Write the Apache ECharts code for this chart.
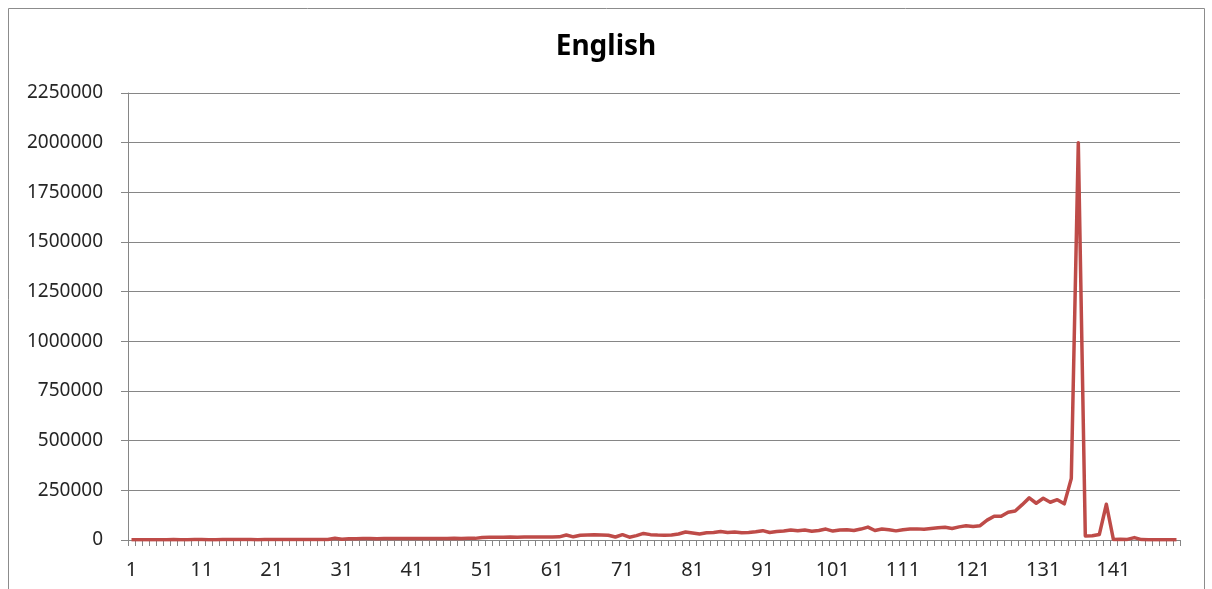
<!DOCTYPE html>
<html>
<head>
<meta charset="utf-8">
<style>
  html, body { margin: 0; padding: 0; background: #ffffff; }
  #chart { width: 1212px; height: 589px; }
</style>
<script src="https://cdn.jsdelivr.net/npm/echarts@6/dist/echarts.min.js"></script>
</head>
<body>
<div id="chart"></div>
<script>
// Category labels 1..150
const categories = Array.from({ length: 150 }, (_, i) => String(i + 1));

// Values per category, in blocks
const valuesLow = [ // 1-31
  1200, 1500, 1300, 1800, 1600, 1400, 2000, 1700, 1500, 1900,
  2100, 1800, 1600, 2200, 2000, 1900, 2300, 2100, 1800, 2400,
  2200, 2000, 2500, 2300, 2100, 2600, 2400, 2800, 3000, 9000,
  3500
];
const valuesEarly = [ // 32-62
  6000, 6500, 7000, 7200, 6800, 7400, 7100, 7600, 7300, 7800,
  7500, 7900, 7700, 8100, 7800, 8300, 8000, 8400, 8200,
  13000, 13500, 14000, 13800, 14500, 14200, 15000, 14600, 15200, 15500, 15000, 16000
];
const valuesMid = [ // 63-100
  25000, 16000, 24000, 25000, 26000, 25000, 24000, 15000, 27000, 14000,
  22000, 33000, 27000, 25000, 24000, 25000, 30000, 40000, 35000, 30000,
  36000, 38000, 43000, 38000, 40000, 36000, 38000, 42000, 47000, 38000,
  43000, 45000, 50000, 46000, 50000, 44000, 48000, 55000
];
const valuesLate = [ // 101-135
  45000, 50000, 52000, 48000, 55000, 65000, 48000, 55000, 52000, 46000,
  52000, 55000, 56000, 54000, 58000, 62000, 64000, 58000, 66000, 72000,
  68000, 72000, 100000, 120000, 120000, 140000, 146000, 178000, 212000, 185000,
  210000, 190000, 203000, 182000, 310000
];
const valuesTail = [ // 136-150
  2000000, 20000, 21000, 28000, 180000, 3000, 4000, 3000, 12000, 2000,
  1500, 1200, 1000, 1000, 800
];
const values = [].concat(valuesLow, valuesEarly, valuesMid, valuesLate, valuesTail);

const yTicks = { min: 0, max: 2250000, step: 250000 };

const chart = echarts.init(document.getElementById('chart'));
const axisGray = '#868686';
const textColor = '#262626';
const fontFamily = "'Noto Sans', 'Open Sans', sans-serif";

chart.setOption({
  backgroundColor: '#ffffff',
  animation: false,
  graphic: [{
    type: 'rect',
    shape: { x: 8.5, y: 8.5, width: 1196, height: 620 },
    style: { fill: 'none', stroke: '#8c8c8c', lineWidth: 1 },
    silent: true
  }],
  title: {
    text: 'English',
    left: 'center',
    top: 28,
    textStyle: { fontFamily, fontSize: 28, fontWeight: 'bold', color: '#000000' }
  },
  grid: { left: 128, right: 32, top: 93, bottom: 49, containLabel: false },
  xAxis: {
    type: 'category',
    data: categories,
    boundaryGap: true,
    axisLine: { lineStyle: { color: axisGray, width: 1 } },
    axisTick: { show: true, interval: 0, length: 6, inside: false, lineStyle: { color: axisGray } },
    axisLabel: { interval: 9, margin: 20, fontFamily, fontSize: 20, color: textColor },
    splitLine: { show: false }
  },
  yAxis: {
    type: 'value',
    min: yTicks.min,
    max: yTicks.max,
    interval: yTicks.step,
    axisLine: { show: true, lineStyle: { color: axisGray, width: 1 } },
    axisTick: { show: true, length: 7, lineStyle: { color: axisGray } },
    axisLabel: { margin: 25, fontFamily, fontSize: 19, color: textColor, formatter: (v) => String(v) },
    splitLine: { show: true, lineStyle: { color: axisGray, width: 1 } }
  },
  series: [{
    type: 'line',
    data: values,
    showSymbol: false,
    symbol: 'none',
    lineStyle: { color: '#BE4B48', width: 3.5, join: 'round' },
    itemStyle: { color: '#BE4B48' }
  }]
});
</script>
</body>
</html>
